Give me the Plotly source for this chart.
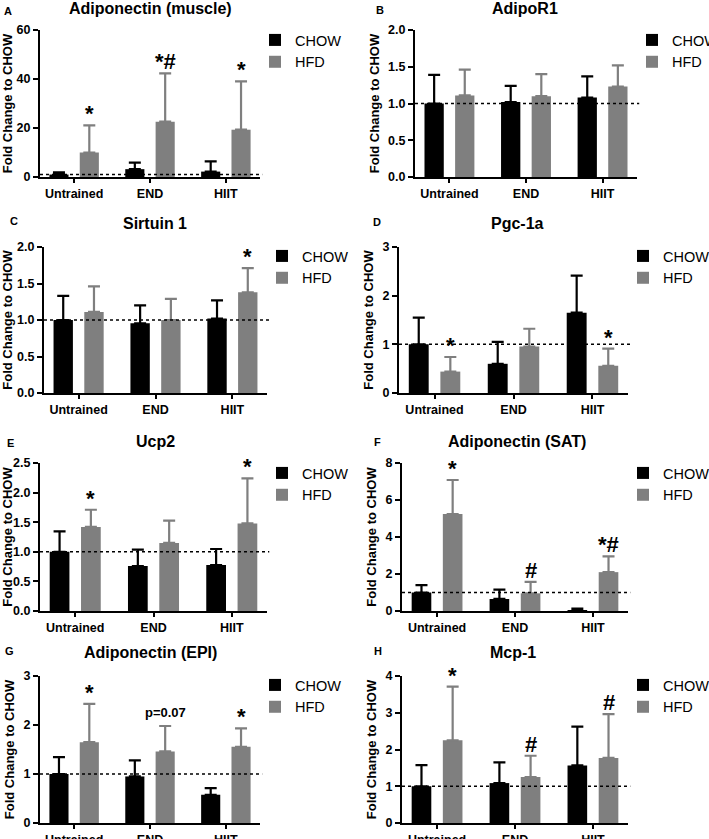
import plotly.graph_objects as go

W, H = 709, 839

groups = ["Untrained", "END", "HIIT"]
titles = ["Adiponectin (muscle)", "AdipoR1", "Sirtuin 1", "Pgc-1a",
          "Ucp2", "Adiponectin (SAT)", "Adiponectin (EPI)", "Mcp-1"]
letters = ["A", "B", "C", "D", "E", "F", "G", "H"]
y_max = [60, 2.0, 2.0, 3, 2.5, 8, 3, 4]
y_dtick = [20, 0.5, 0.5, 1, 0.5, 2, 1, 1]
y_format = ["d", ".1f", ".1f", "d", ".1f", "d", "d", "d"]

# means and upper SD for each panel
chow_A = [1.0, 3.2, 2.2];      chow_err_A = [0.9, 2.7, 4.2]
hfd_A = [10.0, 22.6, 19.3];    hfd_err_A = [11.1, 19.7, 19.7]
chow_B = [1.0, 1.02, 1.08];    chow_err_B = [0.39, 0.22, 0.29]
hfd_B = [1.11, 1.10, 1.23];    hfd_err_B = [0.35, 0.30, 0.29]
chow_C = [1.0, 0.955, 1.02];   chow_err_C = [0.33, 0.245, 0.25]
hfd_C = [1.11, 1.0, 1.38];     hfd_err_C = [0.35, 0.29, 0.33]
chow_D = [1.0, 0.6, 1.65];     chow_err_D = [0.55, 0.45, 0.76]
hfd_D = [0.44, 0.955, 0.56];   hfd_err_D = [0.30, 0.365, 0.35]
chow_E = [1.0, 0.76, 0.777];   chow_err_E = [0.346, 0.276, 0.27]
hfd_E = [1.42, 1.15, 1.48];    hfd_err_E = [0.29, 0.377, 0.76]
chow_F = [1.0, 0.65, 0.05];    chow_err_F = [0.4, 0.5, 0.08]
hfd_F = [5.24, 0.955, 2.1];    hfd_err_F = [1.84, 0.615, 0.85]
chow_G = [1.0, 0.95, 0.577];   chow_err_G = [0.344, 0.33, 0.136]
hfd_G = [1.65, 1.46, 1.555];   hfd_err_G = [0.78, 0.52, 0.375]
chow_H = [1.0, 1.086, 1.566];  chow_err_H = [0.575, 0.564, 1.054]
hfd_H = [2.25, 1.25, 1.77];    hfd_err_H = [1.46, 0.58, 1.19]

marks_A = ["*", "*#", "*"]
marks_B = ["", "", ""]
marks_C = ["", "", "*"]
marks_D = ["*", "", "*"]
marks_E = ["*", "", "*"]
marks_F = ["*", "#", "*#"]
marks_G = ["*", "p=0.07", "*"]
marks_H = ["*", "#", "#"]

chow_all = [chow_A, chow_B, chow_C, chow_D, chow_E, chow_F, chow_G, chow_H]
chow_err_all = [chow_err_A, chow_err_B, chow_err_C, chow_err_D, chow_err_E, chow_err_F, chow_err_G, chow_err_H]
hfd_all = [hfd_A, hfd_B, hfd_C, hfd_D, hfd_E, hfd_F, hfd_G, hfd_H]
hfd_err_all = [hfd_err_A, hfd_err_B, hfd_err_C, hfd_err_D, hfd_err_E, hfd_err_F, hfd_err_G, hfd_err_H]
marks_all = [marks_A, marks_B, marks_C, marks_D, marks_E, marks_F, marks_G, marks_H]

# pixel layout of each panel: x0, x1, ytop, ybottom
boxes = [(40, 260, 30, 177), (415, 637, 30, 177),
         (44, 267, 247, 393), (399, 628, 247, 393),
         (40, 267, 463, 611), (402, 628, 463, 611),
         (40, 260, 676, 823), (402, 628, 676, 823)]
title_pos = [(150, 9), (525, 9), (155, 223), (517, 223),
             (155, 441), (517, 441), (150, 652), (513, 652)]
letter_pos = [(8, 11), (380, 10), (14, 221), (377, 222),
              (10, 443), (378, 442), (9, 651), (378, 651)]
legend_pos = [(255, 24), (632, 24), (262, 240), (623, 240),
              (262, 457), (623, 457), (255, 669), (623, 669)]

FONT = "Liberation Sans, Arial, sans-serif"
BLACK = "#000000"
GREY = "#7f7f7f"

fig = go.Figure()
layout = dict(
    template="none",
    width=W, height=H, margin=dict(l=0, r=0, t=0, b=0, autoexpand=False),
    paper_bgcolor="white", plot_bgcolor="white",
    barmode="group", bargap=0.2, bargroupgap=0.37,
    font=dict(family=FONT, color="black"),
    annotations=[], shapes=[],
)

xs = [0, 1, 2]
for i in range(8):
    sfx = "" if i == 0 else str(i + 1)
    xa, ya = "x" + sfx, "y" + sfx
    leg = "legend" + sfx
    fig.add_trace(go.Bar(
        x=xs, y=chow_all[i], name="CHOW", marker=dict(color=BLACK, line=dict(width=0)),
        error_y=dict(type="data", array=chow_err_all[i], arrayminus=[0, 0, 0], symmetric=False,
                     color=BLACK, thickness=2.2, width=6),
        xaxis=xa, yaxis=ya, legend=leg, offsetgroup="c"))
    fig.add_trace(go.Bar(
        x=xs, y=hfd_all[i], name="HFD", marker=dict(color=GREY, line=dict(width=0)),
        error_y=dict(type="data", array=hfd_err_all[i], arrayminus=[0, 0, 0], symmetric=False,
                     color=GREY, thickness=2.2, width=6),
        xaxis=xa, yaxis=ya, legend=leg, offsetgroup="h"))

    x0, x1, yt, yb = boxes[i]
    layout["xaxis" + sfx] = dict(
        domain=[x0 / W, x1 / W], anchor=ya, range=[-0.45, 2.45], automargin=False,
        tickmode="array", tickvals=xs, ticktext=groups,
        showline=True, linecolor="black", linewidth=2,
        ticks="outside", ticklen=4, tickwidth=2, tickcolor="black",
        tickfont=dict(size=12.5, family=FONT, weight="bold"),
        showgrid=False, zeroline=False, fixedrange=True)
    layout["yaxis" + sfx] = dict(
        domain=[1 - yb / H, 1 - yt / H], anchor=xa, range=[0, y_max[i]], automargin=False,
        dtick=y_dtick[i], tick0=0, tickformat=y_format[i],
        showline=True, linecolor="black", linewidth=2,
        ticks="outside", ticklen=5, tickwidth=2, tickcolor="black",
        tickfont=dict(size=12.5, family=FONT, weight="bold"),
        title=dict(text="Fold Change to CHOW", standoff=6,
                   font=dict(size=13, family=FONT, weight="bold")),
        showgrid=False, zeroline=False, fixedrange=True)
    lx, ly = legend_pos[i]
    layout[leg] = dict(x=lx / W, y=1 - ly / H, xanchor="left", yanchor="top",
                       font=dict(size=14.5, family=FONT), bgcolor="rgba(0,0,0,0)",
                       itemwidth=30, tracegroupgap=0, traceorder="normal")
    # dotted reference line at fold change 1
    layout["shapes"].append(dict(type="line", xref=xa + " domain", yref=ya,
                                 x0=0, x1=1.01, y0=1, y1=1,
                                 line=dict(color="black", width=1.5, dash="dot")))
    tx, ty = title_pos[i]
    layout["annotations"].append(dict(text=titles[i], x=tx / W, y=1 - ty / H, xref="paper", yref="paper",
                                      xanchor="center", yanchor="middle", showarrow=False,
                                      font=dict(size=16, family=FONT, weight="bold")))
    lx2, ly2 = letter_pos[i]
    layout["annotations"].append(dict(text=letters[i], x=lx2 / W, y=1 - ly2 / H, xref="paper", yref="paper",
                                      xanchor="center", yanchor="middle", showarrow=False,
                                      font=dict(size=11, family=FONT, weight="bold")))
    for j, m in enumerate(marks_all[i]):
        if not m:
            continue
        top = hfd_all[i][j] + hfd_err_all[i][j]
        big = m != "p=0.07"
        layout["annotations"].append(dict(
            text=m, x=xs[j] + 0.2, y=top, xref=xa, yref=ya,
            xanchor="center", yanchor="bottom", showarrow=False,
            yshift=-3 if big else 4,
            font=dict(size=22 if big else 13, family=FONT, weight="bold")))

fig.update_layout(**layout)
fig.write_html("out.html", config={"displayModeBar": False},
               post_script="document.body.style.margin='0';document.body.style.overflow='hidden';")
